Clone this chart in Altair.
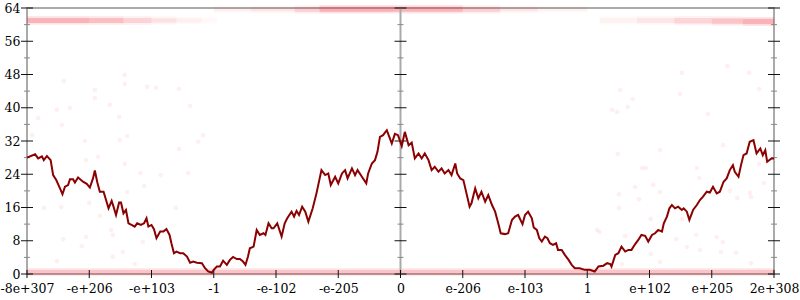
import altair as alt
import pandas as pd

# ---- axis text ----
x_tick_labels = ["-8e+307", "-e+206", "-e+103", "-1", "-e-102", "-e-205", "0",
                 "e-206", "e-103", "1", "e+102", "e+205", "2e+308"]
x_tick_pos = [-6, -5, -4, -3, -2, -1, 0, 1, 2, 3, 4, 5, 6]
y_major = [0, 8, 16, 24, 32, 40, 48, 56, 64]
y_minor = [4, 12, 20, 28, 36, 44, 52, 60]
axis_lines_x = [-6, 0, 6]

# ---- main line ----
line_x = [-6.0, -5.87, -5.82, -5.76, -5.73, -5.68, -5.62, -5.58, -5.53, -5.47, -5.43, -5.39,
          -5.34, -5.31, -5.26, -5.23, -5.18, -5.10, -5.04, -4.99, -4.94, -4.91, -4.87, -4.83,
          -4.77, -4.73, -4.69, -4.64, -4.61, -4.57, -4.52, -4.49, -4.45, -4.41, -4.37, -4.32,
          -4.27, -4.23, -4.17, -4.12, -4.08, -4.05, -4.00, -3.96, -3.92, -3.86, -3.81, -3.76,
          -3.71, -3.68, -3.64, -3.60, -3.54, -3.49, -3.43, -3.38, -3.33, -3.27, -3.19, -3.14,
          -3.09, -3.03, -3.00, -2.95, -2.90, -2.85, -2.79, -2.74, -2.69, -2.63, -2.58, -2.53,
          -2.49, -2.45, -2.42, -2.36, -2.31, -2.26, -2.20, -2.17, -2.12, -2.07, -2.04, -1.98,
          -1.91, -1.86, -1.82, -1.75, -1.71, -1.67, -1.63, -1.58, -1.53, -1.48, -1.41, -1.35,
          -1.27, -1.21, -1.16, -1.12, -1.05, -1.00, -0.94, -0.89, -0.85, -0.78, -0.73, -0.69,
          -0.62, -0.55, -0.52, -0.46, -0.41, -0.37, -0.33, -0.28, -0.22, -0.18, -0.14, -0.09,
          -0.04, 0.02, 0.07, 0.13, 0.18, 0.23, 0.29, 0.34, 0.39, 0.45, 0.50, 0.55, 0.61, 0.66,
          0.71, 0.77, 0.82, 0.88, 0.91, 0.96, 1.01, 1.06, 1.11, 1.14, 1.20, 1.25, 1.30, 1.36,
          1.41, 1.47, 1.52, 1.57, 1.61, 1.68, 1.73, 1.79, 1.84, 1.89, 1.96, 2.00, 2.05, 2.11,
          2.14, 2.19, 2.23, 2.27, 2.32, 2.36, 2.40, 2.45, 2.50, 2.53, 2.59, 2.64, 2.70, 2.75,
          2.80, 2.88, 2.96, 3.04, 3.12, 3.18, 3.26, 3.32, 3.37, 3.39, 3.45, 3.50, 3.55, 3.61,
          3.66, 3.71, 3.77, 3.82, 3.87, 3.93, 3.98, 4.04, 4.09, 4.14, 4.20, 4.23, 4.28, 4.32,
          4.36, 4.41, 4.46, 4.52, 4.55, 4.60, 4.64, 4.68, 4.70, 4.76, 4.81, 4.86, 4.92, 4.97,
          5.02, 5.08, 5.13, 5.19, 5.24, 5.29, 5.34, 5.37, 5.43, 5.47, 5.51, 5.56, 5.61, 5.67,
          5.72, 5.78, 5.82, 5.86, 5.89, 5.96, 6.0]
line_y = [28.0, 28.8, 27.8, 28.3, 27.4, 28.4, 27.4, 23.8, 22.6, 20.6, 19.2, 21.0,
          21.4, 22.8, 22.8, 22.0, 23.2, 22.2, 21.7, 20.8, 23.0, 24.9, 22.0, 19.8,
          19.8, 17.8, 15.8, 17.6, 16.2, 14.2, 17.2, 17.2, 14.6, 15.4, 12.2, 11.8,
          11.4, 12.2, 11.8, 12.2, 13.4, 11.4, 11.8, 10.8, 8.6, 10.2, 10.2, 10.8,
          9.4, 7.4, 5.0, 5.4, 5.0, 5.0, 4.2, 2.7, 3.0, 2.7, 2.6, 1.4,
          0.6, 0.3, 1.0, 1.8, 1.8, 3.2, 2.2, 3.4, 4.1, 3.6, 3.6, 3.0,
          2.2, 4.2, 6.2, 6.6, 10.6, 9.4, 9.8, 9.4, 12.2, 11.0, 11.0, 12.2,
          9.0, 12.2, 13.4, 15.0, 13.8, 15.2, 14.2, 16.2, 15.0, 12.6, 15.8, 19.4,
          25.0, 23.8, 24.2, 21.4, 23.4, 21.8, 24.2, 25.0, 23.0, 25.4, 23.8, 25.0,
          23.4, 21.8, 24.2, 26.6, 27.4, 29.4, 33.0, 33.4, 34.6, 33.0, 31.4, 33.7,
          33.4, 30.8, 34.2, 31.0, 31.6, 27.8, 29.0, 27.8, 29.0, 27.4, 25.0, 25.8, 24.6, 25.4,
          24.2, 25.0, 23.8, 26.6, 24.2, 23.0, 22.6, 19.4, 16.2, 17.0, 20.6, 18.2, 19.8, 17.4,
          19.0, 16.6, 15.0, 12.2, 9.8, 9.6, 9.8, 13.0, 13.8, 14.2, 12.0, 14.2, 15.0, 13.4,
          11.2, 10.6, 8.6, 7.8, 9.0, 8.6, 7.4, 7.0, 7.4, 5.8, 5.8, 4.6, 3.4, 2.2,
          1.4, 1.4, 1.0, 1.0, 0.6, 1.8, 2.0, 2.6, 2.4, 1.8, 4.6, 5.0, 6.6, 5.4,
          5.8, 5.8, 7.2, 8.2, 9.4, 9.2, 7.8, 9.4, 9.8, 10.6, 10.2, 12.2, 13.8, 15.8,
          16.6, 15.8, 16.2, 15.4, 15.8, 15.0, 13.0, 14.6, 15.4, 16.6, 17.8, 18.6, 19.8, 19.6,
          21.0, 19.4, 19.8, 22.2, 23.0, 25.0, 26.2, 24.6, 23.4, 26.2, 28.6, 29.0, 31.8, 32.2,
          29.0, 30.2, 28.6, 29.8, 27.0, 27.8, 27.8]

# ---- sparse faint sample points ----
scatter_x = [-5.41, -4.91, -4.91, -4.43, -4.43, -4.07, -3.93, -3.56, 3.53, 3.73, 4.49, 4.52,
             5.25, 5.60, 5.76, -5.82, -5.52, -5.31, -5.44, -5.92, -5.07, -4.51, -4.39, -4.67,
             -4.52, -4.86, -5.05, -4.43, -4.18, -4.12, -4.39, -3.56, -3.41, -3.85, -3.61, -5.73,
             -5.45, -5.00, -4.83, -3.38, -3.25, -3.17, -4.65, -4.62, -5.05, -5.42, -5.12, -5.52,
             -4.62, -4.46, -4.14, -4.27, 3.49, 4.17, 3.88, 3.94, 3.77, 4.06, 3.51, 4.17, 3.83,
             5.18, 4.76, 4.80, 5.29, 5.41, 5.61, 5.63, 5.84, 3.51, 4.02, 4.52, 4.75, 4.43, 3.61,
             3.16, 3.20, 4.60, 4.81, 5.15, 5.39, 5.18, 4.02, 4.17, 3.56, 5.63, 3.40, 3.48, 3.65,
             4.94, 5.76, 5.08]
scatter_y = [46.4, 44.3, 42.3, 47.9, 45.7, 45.0, 44.8, 44.5, 44.3, 42.1, 43.3, 48.4,
             50.0, 48.4, 44.5, 37.5, 39.5, 39.9, 35.9, 33.4, 32.0, 32.2, 33.2, 40.7,
             37.8, 28.2, 27.4, 26.5, 24.3, 21.2, 19.7, 30.1, 24.3, 23.8, 15.9, 15.9,
             16.1, 17.1, 14.0, 40.4, 31.8, 33.4, 10.6, 9.4, 8.9, 8.4, 6.7, 3.1,
             4.1, 5.3, 7.7, 2.4, 28.9, 29.8, 25.5, 25.5, 20.9, 21.4, 19.2, 19.7, 18.0,
             31.0, 25.5, 23.1, 20.0, 18.3, 19.5, 18.5, 21.9, 15.9, 13.2, 13.2, 9.4, 8.4, 9.1,
             10.6, 10.1, 6.5, 5.8, 5.3, 5.1, 7.7, 4.8, 2.9, 2.4, 2.6, 39.5, 39.0, 40.2,
             38.5, 26.5, 8.9]

# ---- dense bands of overlapping samples: x extent, y core extent, density ----
band_x1 = [-6.0, -5.0, -4.45, -4.0, -3.6, -3.2,
           -3.0, -2.4, -1.7, -1.3, -0.1, 1.0, 1.6, 2.2,
           3.2, 3.8, 4.4, 5.0, 5.5,
           -6.0]
band_x2 = [-5.0, -4.45, -4.0, -3.6, -3.2, -2.95,
           -2.4, -1.7, -1.3, -0.1, 1.0, 1.6, 2.2, 3.0,
           3.8, 4.4, 5.0, 5.5, 6.0,
           6.0]
band_y1 = [60.4, 60.4, 60.4, 60.5, 60.5, 60.5,
           63.2, 63.2, 63.1, 63.1, 63.1, 63.1, 63.2, 63.2,
           60.4, 60.4, 60.3, 60.2, 60.1,
           -0.1]
band_y2 = [61.6, 61.6, 61.6, 61.5, 61.5, 61.5,
           64.1, 64.1, 64.2, 64.3, 64.3, 64.2, 64.1, 64.1,
           61.6, 61.6, 61.6, 61.5, 61.4,
           1.0]
band_alpha = [0.26, 0.22, 0.15, 0.10, 0.05, 0.025,
              0.05, 0.09, 0.16, 0.28, 0.26, 0.16, 0.09, 0.04,
              0.04, 0.08, 0.14, 0.20, 0.26,
              0.20]

FONT = "DejaVu Serif"
FS = 12.5
RED = "#ef2838"
GRAY = "#aaaaaa"

label_expr = "[" + ",".join("'%s'" % s for s in x_tick_labels) + "][datum.value + 6]"

xscale = alt.Scale(domain=[-6, 6], nice=False, zero=False)
yscale = alt.Scale(domain=[0, 64], nice=False, zero=False)
xaxis = alt.Axis(values=x_tick_pos, labelExpr=label_expr, ticks=False, domain=False, grid=False,
                 labelPadding=8, title=None, labelFont=FONT, labelFontSize=FS, labelColor="black",
                 labelFlush=False, labelOverlap=False)
yaxis = alt.Axis(values=y_major, ticks=False, domain=False, grid=False, labelPadding=7,
                 title=None, labelFont=FONT, labelFontSize=FS, labelColor="black",
                 labelFlush=False, labelOverlap=False)


def X(field):
    return alt.X(field, type="quantitative", scale=xscale, axis=xaxis)


def Y(field):
    return alt.Y(field, type="quantitative", scale=yscale, axis=yaxis)


bands_df = pd.DataFrame({"x1": band_x1, "x2": band_x2, "y1": band_y1, "y2": band_y2, "a": band_alpha})
# soft halo around each band, then its core
halo = alt.Chart(bands_df).transform_calculate(
    h1="datum.y1 - 0.45", h2="datum.y2 + 0.45", ha="datum.a * 0.45"
).mark_rect(color=RED).encode(
    x=X("x1"), x2="x2", y=Y("h1:Q"), y2="h2:Q",
    opacity=alt.Opacity("ha:Q", scale=None, legend=None))
bands = alt.Chart(bands_df).mark_rect(color=RED).encode(
    x=X("x1"), x2="x2", y=Y("y1"), y2="y2",
    opacity=alt.Opacity("a:Q", scale=None, legend=None))

scatter_df = pd.DataFrame({"x": scatter_x, "y": scatter_y})
scatter = alt.Chart(scatter_df).mark_circle(color=RED, opacity=0.07, size=22).encode(
    x=X("x"), y=Y("y"))

center_df = pd.DataFrame({"x": [0]})
center = alt.Chart(center_df).mark_rule(color=GRAY, strokeWidth=2).encode(x=X("x"))

major_df = pd.DataFrame([{"x": ax, "y": v} for ax in axis_lines_x for v in y_major])
minor_df = pd.DataFrame([{"x": ax, "y": v} for ax in axis_lines_x for v in y_minor])
xt_df = pd.DataFrame({"x": x_tick_pos, "y": [0] * len(x_tick_pos)})

major_ticks = alt.Chart(major_df).mark_tick(orient="horizontal", size=12, thickness=1,
                                            color="#111111", opacity=1).encode(x=X("x"), y=Y("y"))
minor_ticks = alt.Chart(minor_df).mark_tick(orient="horizontal", size=6, thickness=1,
                                            color="#888888", opacity=1).encode(x=X("x"), y=Y("y"))
x_ticks = alt.Chart(xt_df).mark_tick(orient="vertical", size=8, thickness=1,
                                     color="#111111", opacity=1).encode(x=X("x"), y=Y("y"))

line_df = pd.DataFrame({"x": line_x, "y": line_y})
line = alt.Chart(line_df).mark_line(color="#8b0000", strokeWidth=2, interpolate="linear").encode(
    x=X("x"), y=Y("y"), order="x:Q")

chart = alt.layer(halo, bands, scatter, center, minor_ticks, major_ticks, x_ticks, line).properties(
    width=747, height=266,
    autosize=alt.AutoSizeParams(type="none"),
    padding={"left": 27, "top": 8, "right": 26, "bottom": 26},
    background="white",
).configure_view(stroke=GRAY, strokeWidth=2)

chart.save("out.html", embed_options={"renderer": "svg", "actions": False})
